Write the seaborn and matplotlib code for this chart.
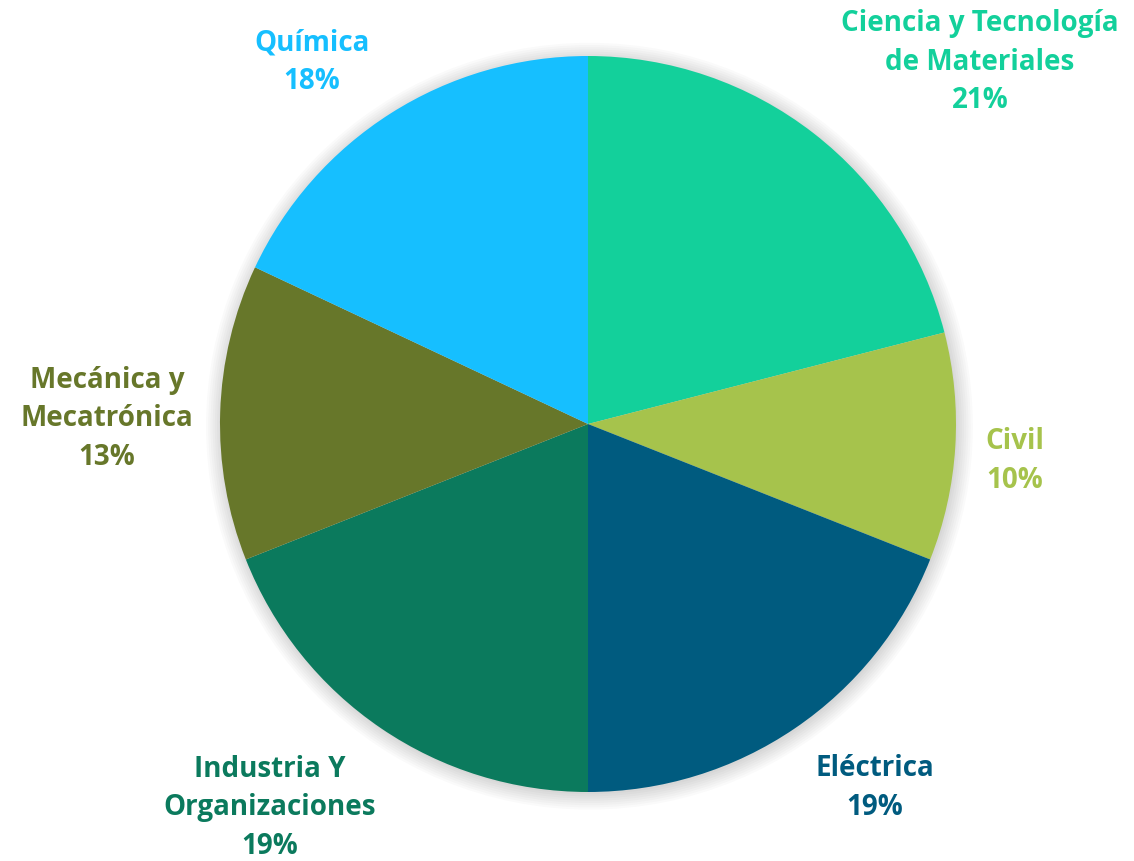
import matplotlib
matplotlib.use("Agg")
import matplotlib.pyplot as plt
import seaborn as sns
from matplotlib.patches import Circle

# data
categories = ["Ciencia y Tecnología\nde Materiales", "Civil", "Eléctrica",
              "Industria Y\nOrganizaciones", "Mecánica y\nMecatrónica", "Química"]
shares = [21, 10, 19, 19, 13, 18]
colors = ["#13D09B", "#A6C34C", "#005B7F", "#0B7A5D", "#67772A", "#16BFFF"]

# where each label sits, in pixels of the picture (centre of text block)
label_px = [(980, 62), (1015, 461), (875, 788), (270, 808), (107, 419), (312, 62)]

sns.set_theme(style="white")
plt.rcParams["font.family"] = ["Open Sans", "DejaVu Sans"]

W, H = 1134, 862
cx, cy, R = 588, 425, 368

fig = plt.figure(figsize=(W / 100, H / 100), dpi=100)
fig.patch.set_facecolor("white")
ax = fig.add_axes([0, 0, 1, 1])

# soft shadow under the pie
for i in range(8):
    ax.add_patch(Circle((0.004, -0.006), 1 + 0.006 * i, color="#000000",
                        alpha=0.018, lw=0, zorder=0))

ax.pie(shares, colors=colors, startangle=90, counterclock=False, radius=1,
       wedgeprops=dict(linewidth=0), frame=True)
ax.set_xlim(-cx / R, (W - cx) / R)
ax.set_ylim(-(H - cy) / R, cy / R)
ax.set_aspect("equal")
ax.axis("off")

for name, val, col, (px, py) in zip(categories, shares, colors, label_px):
    ax.text((px - cx) / R, (cy - py) / R, f"{name}\n{val}%", color=col,
            ha="center", va="center", fontsize=20, fontweight="bold",
            linespacing=1.45)

fig.savefig("out.png", dpi=100)
